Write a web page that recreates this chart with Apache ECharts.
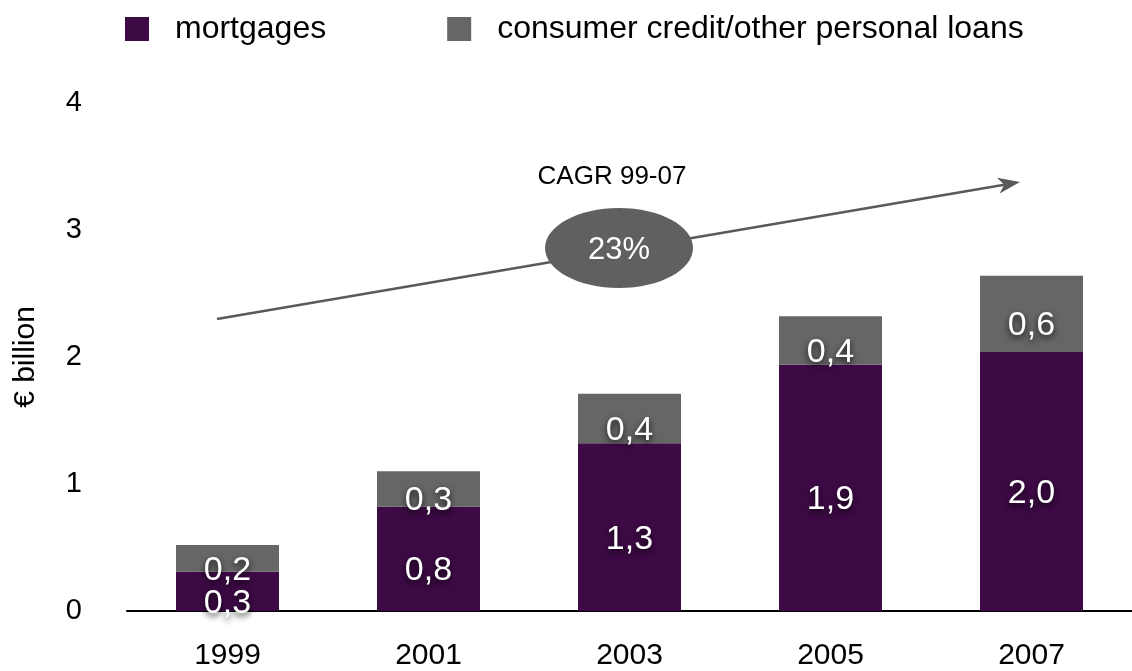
<!DOCTYPE html>
<html>
<head>
<meta charset="utf-8">
<script src="https://cdn.jsdelivr.net/npm/echarts@6/dist/echarts.min.js"></script>
<style>
  html, body { margin: 0; padding: 0; background: #fff; }
  #chart { width: 1132px; height: 671px; }
</style>
</head>
<body>
<div id="chart"></div>
<script>
// Household lending volumes, € billion
const years = ['1999', '2001', '2003', '2005', '2007'];
const mortgages = [0.31, 0.82, 1.32, 1.94, 2.04];
const consumerCredit = [0.21, 0.28, 0.39, 0.38, 0.60];
const yTicks = [0, 1, 2, 3, 4];
const cagrTitle = 'CAGR 99-07';
const cagrValue = '23%';

const FONT = '"Liberation Sans", Arial, Helvetica, sans-serif';
const PURPLE = '#3D0A45';
const GREY = '#666666';

const fmt = v => v.toFixed(1).replace('.', ',');

const barLabel = {
  show: true,
  position: 'inside',
  offset: [0, 12],
  color: '#fff',
  fontFamily: FONT,
  fontSize: 34,
  textShadowColor: 'rgba(0,0,0,0.85)',
  textShadowBlur: 6,
  textShadowOffsetY: 3,
  formatter: p => fmt(p.value)
};

const chart = echarts.init(document.getElementById('chart'));

const option = {
  animation: false,
  legend: {
    top: 8,
    left: 120,
    itemWidth: 24,
    itemHeight: 24,
    itemGap: 121,
    icon: 'rect',
    textStyle: { fontFamily: FONT, fontSize: 32, color: '#000', padding: [0, 0, 0, 21] },
    data: ['mortgages', 'consumer credit/other personal loans']
  },
  grid: { left: 127, width: 1013, top: 103, bottom: 60 },
  xAxis: {
    type: 'category',
    data: years,
    axisTick: { show: false },
    axisLine: { lineStyle: { color: '#000', width: 2 } },
    axisLabel: { color: '#000', fontFamily: FONT, fontSize: 30, margin: 30 }
  },
  yAxis: {
    type: 'value',
    min: yTicks[0],
    max: yTicks[yTicks.length - 1],
    interval: 1,
    name: '€ billion',
    nameLocation: 'middle',
    nameRotate: 90,
    nameGap: 86,
    nameTextStyle: { fontFamily: FONT, fontSize: 30, color: '#000' },
    splitLine: { show: false },
    axisLine: { show: false },
    axisTick: { show: false },
    axisLabel: { color: '#000', fontFamily: FONT, fontSize: 29, margin: 45 }
  },
  series: [
    {
      name: 'mortgages',
      type: 'bar',
      stack: 'total',
      barWidth: 103,
      itemStyle: { color: PURPLE },
      label: barLabel,
      data: mortgages
    },
    {
      name: 'consumer credit/other personal loans',
      type: 'bar',
      stack: 'total',
      barWidth: 103,
      itemStyle: { color: GREY },
      label: barLabel,
      data: consumerCredit
    }
  ]
};

chart.setOption(option);

// Growth arrow with CAGR badge
const start = [217, 319];
const tip = [1020, 182];
const dx = tip[0] - start[0], dy = tip[1] - start[1];
const len = Math.hypot(dx, dy);
const ux = dx / len, uy = dy / len;
const px = -uy, py = ux;
const headLen = 22, headHalf = 8;
const base = [tip[0] - ux * headLen, tip[1] - uy * headLen];
const notch = [tip[0] - ux * (headLen - 6), tip[1] - uy * (headLen - 6)];

chart.setOption({
  graphic: [
    {
      type: 'line',
      shape: { x1: start[0], y1: start[1], x2: notch[0], y2: notch[1] },
      style: { stroke: '#595959', lineWidth: 2.5 },
      z: 10
    },
    {
      type: 'polygon',
      shape: {
        points: [
          tip,
          [base[0] + px * headHalf, base[1] + py * headHalf],
          notch,
          [base[0] - px * headHalf, base[1] - py * headHalf]
        ]
      },
      style: { fill: '#595959' },
      z: 10
    },
    {
      type: 'ellipse',
      shape: { cx: 619, cy: 248, rx: 74, ry: 40 },
      style: { fill: '#606060' },
      z: 11
    },
    {
      type: 'text',
      x: 619, y: 250,
      style: {
        text: cagrValue, fill: '#fff', font: '31px ' + FONT,
        align: 'center', verticalAlign: 'middle'
      },
      z: 12
    },
    {
      type: 'text',
      x: 612, y: 177,
      style: {
        text: cagrTitle, fill: '#000', font: '26px ' + FONT,
        align: 'center', verticalAlign: 'middle'
      },
      z: 12
    }
  ]
});
</script>
</body>
</html>
